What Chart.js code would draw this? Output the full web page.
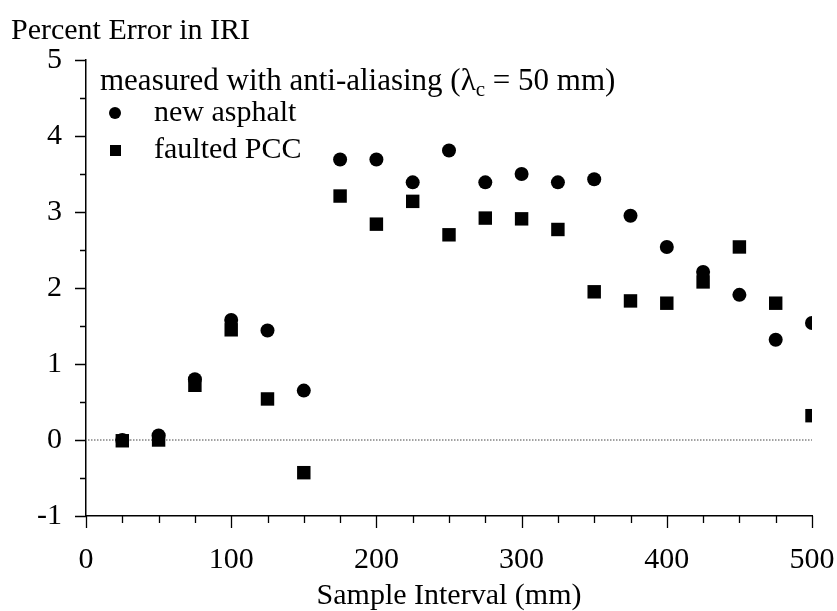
<!DOCTYPE html>
<html>
<head>
<meta charset="utf-8">
<script src="https://cdn.jsdelivr.net/npm/chart.js@4"></script>
<style>
  body { margin: 0; background: #fff; }
  canvas { display: block; }
</style>
</head>
<body>
<canvas id="chart" width="837" height="611"></canvas>
<script>
// values
const intervals = [25, 50, 75, 100, 125, 150, 175, 200, 225, 250, 275, 300, 325, 350, 375, 400, 425, 450, 475, 500];
const newAsphalt = [0.0, 0.06, 0.80, 1.58, 1.44, 0.65, 3.69, 3.69, 3.39, 3.81, 3.39, 3.50, 3.39, 3.43, 2.95, 2.54, 2.21, 1.91, 1.32, 1.54];
const faultedPCC = [-0.01, 0.0, 0.72, 1.45, 0.54, -0.43, 3.21, 2.84, 3.14, 2.70, 2.92, 2.91, 2.77, 1.95, 1.83, 1.80, 2.08, 2.54, 1.80, 0.32];
const xTicks = [0, 100, 200, 300, 400, 500];
const yTicks = [-1, 0, 1, 2, 3, 4, 5];

const FONT = "Liberation Serif";

const toPoints = (ys) => intervals.map((x, i) => ({ x: x, y: ys[i] }));

// dotted zero line, axis tick marks, legend and y title
const decor = {
  id: "decor",
  beforeDatasetsDraw(chart) {
    const { ctx, chartArea, scales } = chart;
    const y0 = scales.y.getPixelForValue(0);
    ctx.save();
    ctx.strokeStyle = "#444";
    ctx.lineWidth = 1;
    ctx.setLineDash([1.5, 1.5]);
    ctx.beginPath();
    ctx.moveTo(chartArea.left + 2, y0);
    ctx.lineTo(chartArea.right, y0);
    ctx.stroke();
    ctx.restore();
  },
  afterDraw(chart) {
    const { ctx, chartArea, scales } = chart;
    const left = chartArea.left, bottom = chartArea.bottom;
    ctx.save();
    ctx.strokeStyle = "#000";
    ctx.lineWidth = 1.3;
    ctx.beginPath();
    for (let v = -1; v <= 5; v += 0.5) {
      const py = Math.round(scales.y.getPixelForValue(v)) + 0.5;
      const len = Number.isInteger(v) ? 11 : 6;
      ctx.moveTo(left, py);
      ctx.lineTo(left - len, py);
    }
    for (let v = 0; v <= 500; v += 25) {
      const px = Math.round(scales.x.getPixelForValue(v)) + 0.5;
      const len = v % 100 === 0 ? 12 : 7;
      ctx.moveTo(px, bottom);
      ctx.lineTo(px, bottom + len);
    }
    ctx.stroke();

    ctx.fillStyle = "#000";
    ctx.textBaseline = "middle";
    ctx.textAlign = "left";
    ctx.font = "30px " + FONT;
    ctx.fillText("Percent Error in IRI", 11, 31);

    // legend header with subscript
    let x = 100;
    const hy = 82;
    ctx.font = "31px " + FONT;
    const t1 = "measured with anti-aliasing (\u03bb";
    ctx.fillText(t1, x, hy);
    x += ctx.measureText(t1).width;
    ctx.font = "21px " + FONT;
    ctx.fillText("c", x, hy + 8);
    x += ctx.measureText("c").width;
    ctx.font = "31px " + FONT;
    ctx.fillText(" = 50 mm)", x, hy);

    ctx.font = "30px " + FONT;
    ctx.beginPath();
    ctx.arc(115, 113, 6, 0, Math.PI * 2);
    ctx.fill();
    ctx.fillRect(110, 145, 11, 11);
    ctx.fillText("new asphalt", 154, 113);
    ctx.fillText("faulted PCC", 154, 150);
    ctx.restore();
  }
};

new Chart(document.getElementById("chart"), {
  type: "scatter",
  data: {
    datasets: [
      {
        label: "new asphalt",
        data: toPoints(newAsphalt),
        pointStyle: "circle",
        pointRadius: 7,
        pointBorderWidth: 0,
        backgroundColor: "#000",
        borderColor: "#000",
      },
      {
        label: "faulted PCC",
        data: toPoints(faultedPCC),
        pointStyle: "rect",
        pointRadius: 9.5,
        pointBorderWidth: 0,
        backgroundColor: "#000",
        borderColor: "#000",
      },
    ],
  },
  options: {
    responsive: false,
    animation: false,
    events: [],
    layout: { padding: { top: 60, right: 25, left: 0, bottom: 0 } },
    plugins: { legend: { display: false }, tooltip: { enabled: false } },
    scales: {
      x: {
        type: "linear",
        min: 0,
        max: 500,
        afterBuildTicks: (s) => { s.ticks = xTicks.map((v) => ({ value: v })); },
        afterFit: (s) => { s.height = 95; s.paddingLeft = 0; s.paddingRight = 0; },
        grid: { display: false, drawTicks: false },
        border: { display: true, color: "#000", width: 1.5 },
        ticks: { color: "#000", font: { family: FONT, size: 30 }, padding: 26, maxRotation: 0 },
        title: {
          display: true,
          text: "Sample Interval (mm)",
          color: "#000",
          font: { family: FONT, size: 30, lineHeight: 1 },
          padding: { top: 0, bottom: 0 },
        },
      },
      y: {
        min: -1,
        max: 5,
        afterBuildTicks: (s) => { s.ticks = yTicks.map((v) => ({ value: v })); },
        afterFit: (s) => { s.width = 86; s.paddingTop = 0; s.paddingBottom = 0; },
        grid: { display: false, drawTicks: false },
        border: { display: true, color: "#000", width: 1.5 },
        ticks: { color: "#000", font: { family: FONT, size: 30 }, padding: 24 },
      },
    },
  },
  plugins: [decor],
});
</script>
</body>
</html>
